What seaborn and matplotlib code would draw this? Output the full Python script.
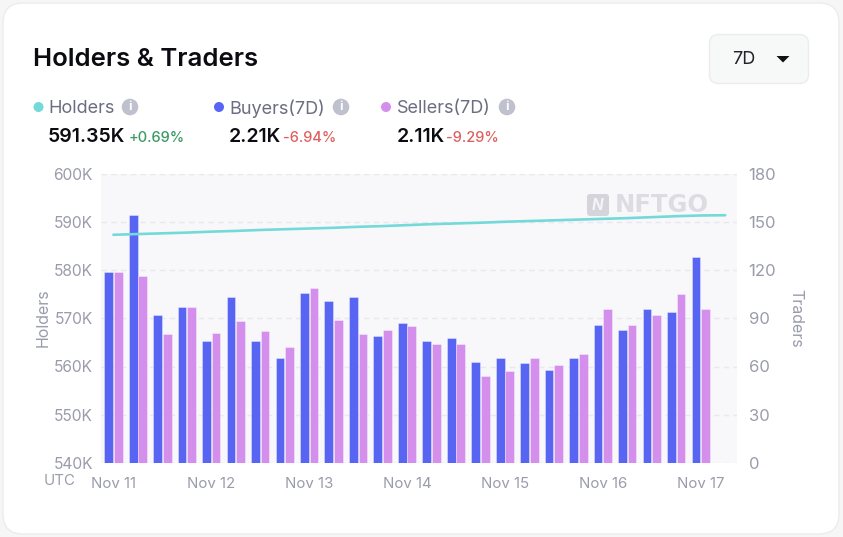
import numpy as np
import pandas as pd
import matplotlib
matplotlib.use('Agg')
import matplotlib.pyplot as plt
from matplotlib.patches import FancyBboxPatch, Circle, Polygon
import seaborn as sns

# one slot every 6 hours, the last slot only has a holders point
slots = ['Nov 11 00h', 'Nov 11 06h', 'Nov 11 12h', 'Nov 11 18h',
         'Nov 12 00h', 'Nov 12 06h', 'Nov 12 12h', 'Nov 12 18h',
         'Nov 13 00h', 'Nov 13 06h', 'Nov 13 12h', 'Nov 13 18h',
         'Nov 14 00h', 'Nov 14 06h', 'Nov 14 12h', 'Nov 14 18h',
         'Nov 15 00h', 'Nov 15 06h', 'Nov 15 12h', 'Nov 15 18h',
         'Nov 16 00h', 'Nov 16 06h', 'Nov 16 12h', 'Nov 16 18h',
         'Nov 17 00h', 'Nov 17 06h']
buyers = [119, 154, 92, 97, 76, 103, 76, 65, 106, 101, 103, 79, 87,
          76, 78, 63, 65, 62, 58, 65, 86, 83, 96, 94, 128, np.nan]
sellers = [119, 116, 80, 97, 81, 88, 82, 72, 109, 89, 80, 83, 85,
           74, 74, 54, 57, 65, 61, 68, 96, 86, 92, 105, 96, np.nan]
holders = [587.3, 587.45, 587.6, 587.75, 587.95, 588.1, 588.3, 588.45, 588.6,
           588.75, 588.95, 589.1, 589.3, 589.5, 589.65, 589.8, 590.0, 590.15,
           590.3, 590.45, 590.6, 590.75, 590.95, 591.15, 591.3, 591.35]
holder_ticks = [540, 550, 560, 570, 580, 590, 600]
trader_ticks = [0, 30, 60, 90, 120, 150, 180]
date_labels = ['Nov 11', 'Nov 12', 'Nov 13', 'Nov 14', 'Nov 15', 'Nov 16', 'Nov 17']

BLUE = '#5865f2'
PINK = '#d48fec'
TEAL = '#74d9d9'
GREY = '#9a9cab'
W, H = 843, 537

sns.set_theme(style='white')
plt.rcParams['font.family'] = ['Inter', 'DejaVu Sans']

fig = plt.figure(figsize=(W / 100, H / 100), dpi=100, facecolor='#f6f6f7')

# pixel overlay for the card and the header texts
bg = fig.add_axes([0, 0, 1, 1], zorder=0)
bg.set_xlim(0, W)
bg.set_ylim(H, 0)
bg.axis('off')
bg.add_patch(FancyBboxPatch((3, 3), 836, 531, boxstyle='round,pad=0,rounding_size=20',
                            fc='white', ec='#ececee', lw=1))

rect = [101.2 / W, 1 - 463 / H, 636.2 / W, 289.5 / H]
ax_t = fig.add_axes(rect, zorder=1)
ax_h = ax_t.twinx()
ax_h.set_zorder(2)
ax_h.patch.set_visible(False)

traders = pd.DataFrame({'slot': slots, 'Buyers': buyers, 'Sellers': sellers})
traders = traders.melt(id_vars='slot', var_name='side', value_name='count')
sns.barplot(data=traders, x='slot', y='count', hue='side', order=slots,
            palette={'Buyers': BLUE, 'Sellers': PINK}, width=0.78, gap=0.08,
            saturation=1, legend=False, ax=ax_t, zorder=3,
            edgecolor='#ffffff66', linewidth=0.6)
sns.lineplot(x=np.arange(len(slots)), y=holders, color=TEAL, lw=1.9, ax=ax_h)

ax_t.set_facecolor('#f8f8fb')
ax_t.set_xlim(-0.5, len(slots) - 0.5)
ax_t.set_ylim(0, 180)
ax_h.set_ylim(540, 600)

ax_t.yaxis.tick_right()
ax_h.yaxis.tick_left()
ax_t.set_yticks(trader_ticks, [str(t) for t in trader_ticks])
ax_h.set_yticks(holder_ticks, [f'{t}K' for t in holder_ticks])
ax_t.set_xticks(range(0, 25, 4), date_labels)
ax_t.set_xlabel('')
ax_t.set_ylabel('')
ax_h.set_ylabel('')
ax_t.tick_params(axis='x', length=0, pad=10, labelsize=10.8, labelcolor=GREY)
ax_t.tick_params(axis='y', length=0, pad=8, labelsize=12, labelcolor=GREY)
ax_h.tick_params(axis='y', length=0, pad=6, labelsize=11.2, labelcolor=GREY)
ax_t.grid(axis='y', color='#e8e8ee', ls=(0, (4, 3)), lw=1)
ax_t.set_axisbelow(True)
for a in (ax_t, ax_h):
    for s in a.spines.values():
        s.set_visible(False)

# overlay on top of the chart for axis titles, watermark and header
top = fig.add_axes([0, 0, 1, 1], zorder=3)
top.set_xlim(0, W)
top.set_ylim(H, 0)
top.axis('off')
top.patch.set_visible(False)

top.text(43, 318, 'Holders', rotation=90, ha='center', va='center', fontsize=11.5, color=GREY)
top.text(796, 318, 'Traders', rotation=270, ha='center', va='center', fontsize=11.5, color=GREY)
top.text(60, 481, 'UTC', ha='center', va='center', fontsize=10.8, color=GREY)

# watermark
top.add_patch(FancyBboxPatch((587, 194), 22, 22, boxstyle='round,pad=0,rounding_size=3',
                             fc='#d4d4da', ec='none', zorder=1))
top.text(598, 205, 'N', ha='center', va='center', fontsize=11, fontweight='bold',
         fontstyle='italic', color='#f4f4f7')
top.text(615, 205, 'NFTGO', ha='left', va='center', fontsize=17.5, fontweight='bold',
         family='DejaVu Sans', color='#dcdce2', zorder=1)

top.text(33, 60, 'Holders & Traders', ha='left', va='center', fontsize=18.5,
         fontweight='semibold', color='#0b0b12')

# range selector
top.add_patch(FancyBboxPatch((709.5, 34.5), 99, 49, boxstyle='round,pad=0,rounding_size=9',
                             fc='#f7f8f8', ec='#ececee', lw=1))
top.text(744, 59, '7D', ha='center', va='center', fontsize=13, color='#22222a')
top.add_patch(Polygon([[776.5, 56], [789.5, 56], [783, 62.5]], fc='#111116', ec='none'))

# header stats: dot x, label, label x, info x, value, value x, change, change x, change colour
stats = [(38.5, TEAL, 'Holders', 48, 130, '591.35K', 48, '+0.69%', 129, '#3a9a62'),
         (219, BLUE, 'Buyers(7D)', 229, 341, '2.21K', 229, '-6.94%', 283, '#df5f5f'),
         (386, PINK, 'Sellers(7D)', 396.5, 507, '2.11K', 396.5, '-9.29%', 446, '#df5f5f')]
for dot_x, color, label, lab_x, info_x, value, val_x, change, chg_x, chg_color in stats:
    top.add_patch(Circle((dot_x, 107), 5, fc=color, ec='none'))
    top.text(lab_x, 108.5, label, ha='left', va='center', fontsize=13, color='#6c6e80')
    top.add_patch(Circle((info_x, 107), 8.3, fc='#c0c1ce', ec='none'))
    top.text(info_x, 107.5, 'i', ha='center', va='center', fontsize=9, fontweight='bold', color='white')
    top.text(val_x, 137, value, ha='left', va='center', fontsize=14, fontweight='semibold', color='#0b0b12')
    top.text(chg_x, 138.5, change, ha='left', va='center', fontsize=10.5, fontweight='medium', color=chg_color)

fig.savefig('out.png', dpi=100, facecolor=fig.get_facecolor())
